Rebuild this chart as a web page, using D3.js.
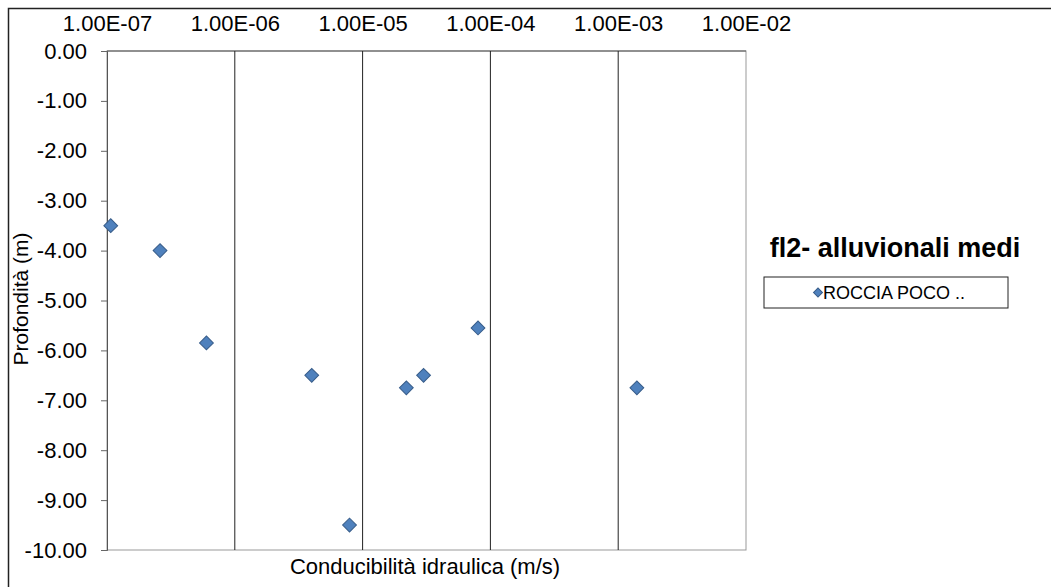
<!DOCTYPE html>
<html>
<head>
<meta charset="utf-8">
<script src="https://cdn.jsdelivr.net/npm/d3@7"></script>
<style>
  body { margin: 0; background: #fff; }
  text { font-family: "Liberation Sans", Arial, sans-serif; fill: #000; }
</style>
</head>
<body>
<div id="chart"></div>
<script>
// conductivity (m/s) and depth (m)
const conductivity = [1.07e-7, 2.6e-7, 6.0e-7, 4.0e-6, 7.9e-6, 2.2e-5, 3.0e-5, 8.0e-5, 1.4e-3];
const depth = [-3.5, -4.0, -5.85, -6.5, -9.5, -6.75, -6.5, -5.55, -6.75];
const xTicks = [1e-7, 1e-6, 1e-5, 1e-4, 1e-3, 1e-2];
const yTicks = [0, -1, -2, -3, -4, -5, -6, -7, -8, -9, -10];
const seriesName = "ROCCIA POCO ..";
const chartTitle = "fl2- alluvionali medi";

const width = 1051, height = 587;
const margin = { top: 51, right: 305, bottom: 37, left: 107 };
const innerWidth = width - margin.left - margin.right;
const innerHeight = height - margin.top - margin.bottom;

const svg = d3.select("#chart").append("svg")
  .attr("width", width)
  .attr("height", height);

// outer chart frame (top and left only are visible)
svg.append("path")
  .attr("d", `M8.5,${height}V8.5H${width}`)
  .attr("fill", "none")
  .attr("stroke", "#222")
  .attr("stroke-width", 1.5);

const plot = svg.append("g")
  .attr("transform", `translate(${margin.left},${margin.top})`);

const x = d3.scaleLog().domain([1e-7, 1e-2]).range([0, innerWidth]);
const y = d3.scaleLinear().domain([-10, 0]).range([innerHeight, 0]);

// plot frame
plot.append("rect")
  .attr("width", innerWidth)
  .attr("height", innerHeight)
  .attr("fill", "none")
  .attr("stroke", "#999");
plot.append("line")
  .attr("x1", 0).attr("x2", innerWidth)
  .attr("stroke", "#555");

// vertical gridlines
plot.selectAll(".grid")
  .data(xTicks.slice(1, -1))
  .join("line")
  .attr("class", "grid")
  .attr("x1", d => x(d)).attr("x2", d => x(d))
  .attr("y1", 0).attr("y2", innerHeight)
  .attr("stroke", "#222");

// top axis labels
const xAxis = plot.append("g")
  .call(d3.axisTop(x).tickValues(xTicks).tickSize(0).tickPadding(20)
    .tickFormat(d => d.toExponential(2).toUpperCase().replace(/E-(\d)$/, "E-0$1")));
xAxis.select(".domain").remove();
xAxis.selectAll("text")
  .attr("font-size", 22)
  .attr("font-family", "Liberation Sans, Arial, sans-serif");

// left axis
const yAxis = plot.append("g")
  .call(d3.axisLeft(y).tickValues(yTicks).tickSize(6).tickPadding(14)
    .tickFormat(d => d.toFixed(2)));
yAxis.select(".domain").attr("stroke", "#555");
yAxis.selectAll(".tick line").attr("stroke", "#666");
yAxis.selectAll("text")
  .attr("font-size", 22)
  .attr("font-family", "Liberation Sans, Arial, sans-serif");

// axis titles
svg.append("text")
  .attr("transform", `translate(28,${margin.top + 248}) rotate(-90)`)
  .attr("text-anchor", "middle")
  .attr("font-size", 21)
  .text("Profondità (m)");

svg.append("text")
  .attr("x", 425).attr("y", 574)
  .attr("text-anchor", "middle")
  .attr("font-size", 22)
  .text("Conducibilità idraulica (m/s)");

// points
const points = conductivity.map((c, i) => ({ c: c, d: depth[i] }));
const diamond = d3.symbol().type(d3.symbolSquare).size(95);

plot.selectAll(".pt")
  .data(points)
  .join("path")
  .attr("class", "pt")
  .attr("d", diamond)
  .attr("transform", d => `translate(${x(d.c)},${y(d.d)}) rotate(45)`)
  .attr("fill", "#4F81BD")
  .attr("stroke", "#385D8A")
  .attr("stroke-width", 1);

// title and legend
svg.append("text")
  .attr("x", 895).attr("y", 257)
  .attr("text-anchor", "middle")
  .attr("font-size", 27)
  .attr("font-weight", "bold")
  .attr("fill", "#111")
  .text(chartTitle);

const legend = svg.append("g").attr("transform", "translate(764,277)");
legend.append("rect")
  .attr("width", 244).attr("height", 31)
  .attr("fill", "#fff")
  .attr("stroke", "#222");
legend.append("path")
  .attr("d", d3.symbol().type(d3.symbolSquare).size(40))
  .attr("transform", "translate(54,15.5) rotate(45)")
  .attr("fill", "#4F81BD")
  .attr("stroke", "#385D8A");
legend.append("text")
  .attr("x", 59).attr("y", 22)
  .attr("font-size", 18)
  .attr("fill", "#222")
  .text(seriesName);
</script>
</body>
</html>
